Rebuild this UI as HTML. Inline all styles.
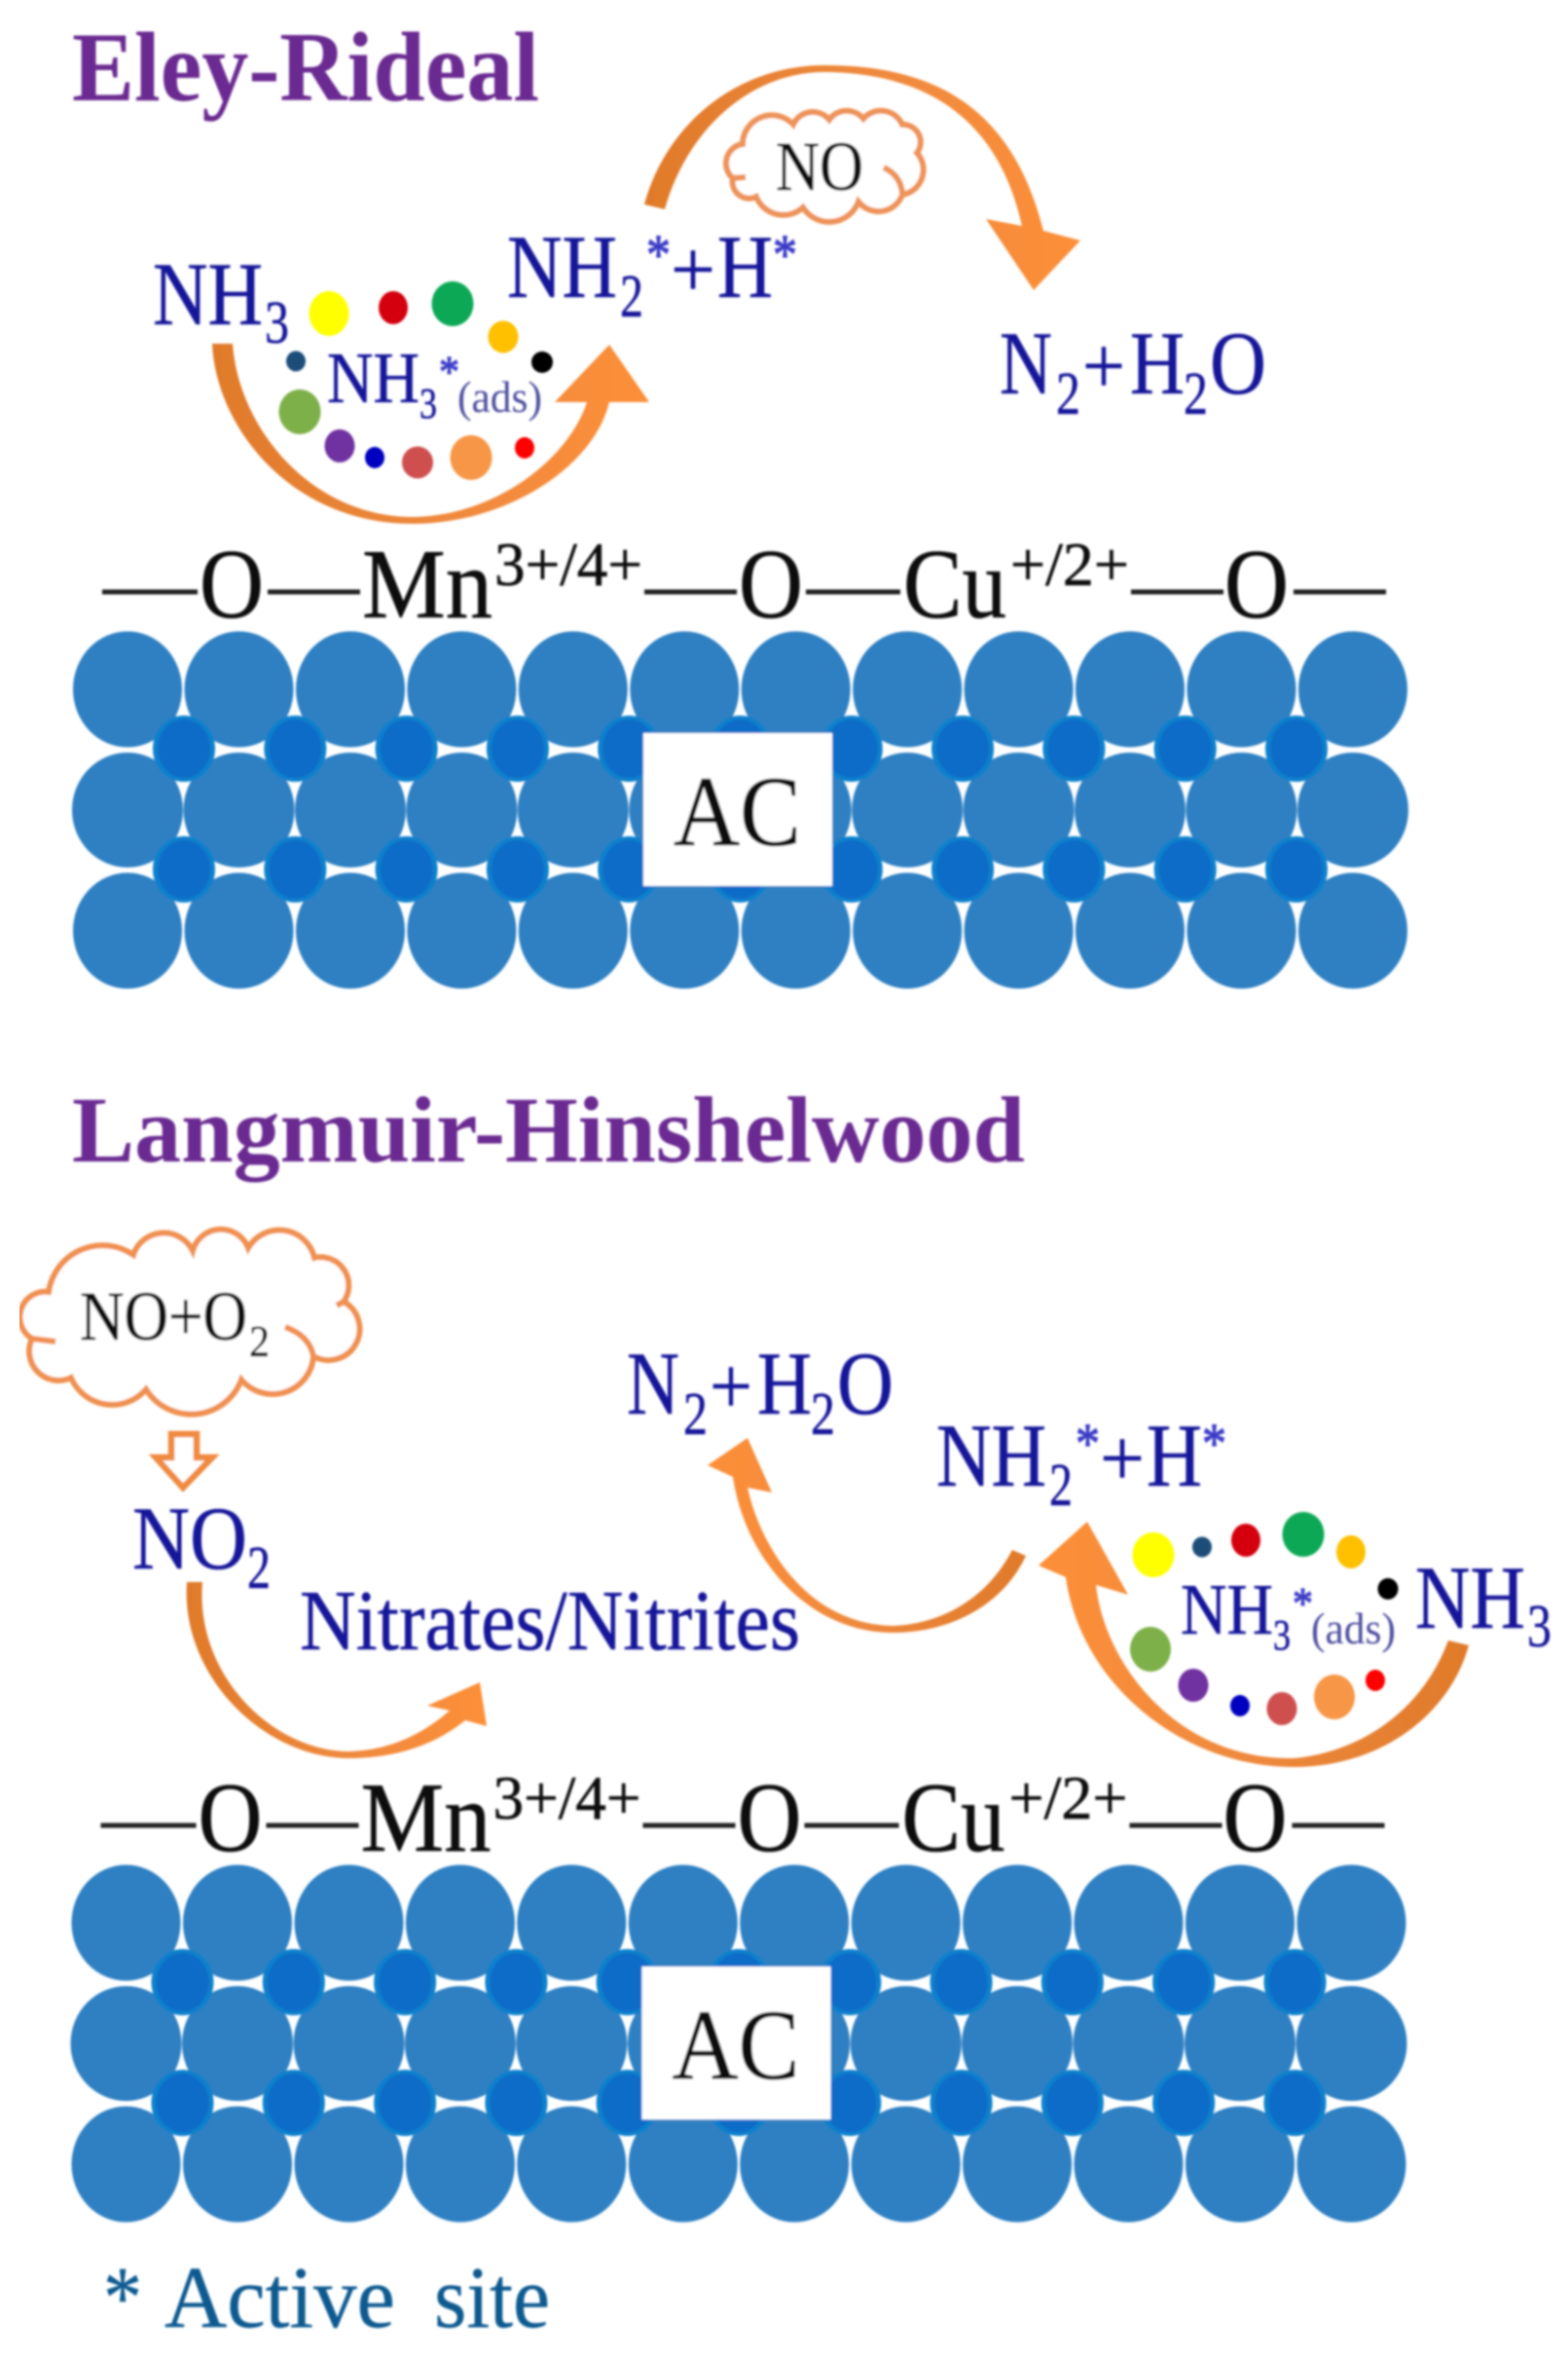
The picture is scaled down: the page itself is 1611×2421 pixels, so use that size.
<!DOCTYPE html>
<html lang="en">
<head>
<meta charset="utf-8">
<title>Eley-Rideal and Langmuir-Hinshelwood mechanisms</title>
<style>
html,body{margin:0;padding:0;background:#fff;width:1611px;height:2421px;overflow:hidden}
svg{display:block}
text{font-family:"Liberation Serif",serif;white-space:pre}
.b{fill:#16169a;stroke:#16169a;stroke-width:.5}
.s{fill:#3c3cc8;stroke:#3c3cc8;stroke-width:1.2}
.k{fill:#111;stroke:#111;stroke-width:.6}
.a{fill:#50509f}
.t{fill:#6a2c91;font-weight:bold}
.p{fill:#0a5a90;stroke:#0a5a90;stroke-width:.4}
</style>
</head>
<body>
<svg xmlns="http://www.w3.org/2000/svg" width="1611" height="2421" viewBox="0 0 1611 2421">
<defs>
<filter id="soft" x="0" y="0" width="100%" height="100%"><feGaussianBlur stdDeviation="1.1"/></filter>
<linearGradient id="gr" x1="0" y1="0" x2="1" y2="0"><stop offset="0" stop-color="#e07a2a"/><stop offset=".55" stop-color="#ef8a3e"/><stop offset="1" stop-color="#fd8f38"/></linearGradient>
<linearGradient id="gl" x1="1" y1="0" x2="0" y2="0"><stop offset="0" stop-color="#e07a2a"/><stop offset=".55" stop-color="#ef8a3e"/><stop offset="1" stop-color="#fd8f38"/></linearGradient>

<g id="col">
<ellipse cx="0" cy="708" rx="56" ry="59.5" fill="#2e80c2"/>
<ellipse cx="0" cy="832" rx="57" ry="59" fill="#2e80c2"/>
<ellipse cx="0" cy="956" rx="56" ry="59.5" fill="#2e80c2"/>
</g>
<g id="dot">
<ellipse cx="0" cy="769" rx="32" ry="34" fill="#0a80cc"/>
<ellipse cx="0" cy="769" rx="27" ry="30" fill="#0a6cc8"/>
<ellipse cx="0" cy="893" rx="32" ry="34" fill="#0a80cc"/>
<ellipse cx="0" cy="893" rx="27" ry="30" fill="#0a6cc8"/>
</g>
<g id="surface">
<use href="#col" x="131"/><use href="#col" x="245.5"/><use href="#col" x="360"/><use href="#col" x="474.4"/>
<use href="#col" x="588.8"/><use href="#col" x="703.3"/><use href="#col" x="817.7"/><use href="#col" x="932.2"/>
<use href="#col" x="1046.6"/><use href="#col" x="1161"/><use href="#col" x="1275.5"/><use href="#col" x="1390"/>
<use href="#dot" x="189"/><use href="#dot" x="303.3"/><use href="#dot" x="417.6"/><use href="#dot" x="531.9"/>
<use href="#dot" x="646.2"/><use href="#dot" x="760.5"/><use href="#dot" x="874.8"/><use href="#dot" x="989.1"/>
<use href="#dot" x="1103.4"/><use href="#dot" x="1217.7"/><use href="#dot" x="1332"/>
<rect x="661" y="753" width="194" height="157" fill="#fff"/>
<text class="k" x="692" y="868" font-size="103" textLength="131" lengthAdjust="spacingAndGlyphs">AC</text>
<g fill="#222">
<rect x="105" y="605.5" width="98" height="5"/>
<rect x="275" y="605.5" width="95" height="5"/>
<rect x="662" y="605.5" width="95" height="5"/>
<rect x="828" y="605.5" width="97" height="5"/>
<rect x="1162" y="605.5" width="95" height="5"/>
<rect x="1329" y="605.5" width="95" height="5"/>
</g>
<text class="k" x="205" y="634" font-size="102" textLength="66" lengthAdjust="spacingAndGlyphs">O</text>
<text class="k" x="372" y="634" font-size="102" textLength="134" lengthAdjust="spacingAndGlyphs">Mn</text>
<text class="k" x="508" y="601" font-size="64" textLength="152" lengthAdjust="spacingAndGlyphs">3+/4+</text>
<text class="k" x="759" y="634" font-size="102" textLength="66" lengthAdjust="spacingAndGlyphs">O</text>
<text class="k" x="928" y="634" font-size="102" textLength="106" lengthAdjust="spacingAndGlyphs">Cu</text>
<text class="k" x="1038" y="601" font-size="64" textLength="122" lengthAdjust="spacingAndGlyphs">+/2+</text>
<text class="k" x="1258" y="634" font-size="102" textLength="66" lengthAdjust="spacingAndGlyphs">O</text>
</g>

<g id="nh3">
<text class="b" x="157" y="333" font-size="92" textLength="113" lengthAdjust="spacingAndGlyphs">NH</text>
<text class="b" x="272" y="352" font-size="62" textLength="25" lengthAdjust="spacingAndGlyphs">3</text>
</g>
<g id="nh2h">
<text class="b" x="521" y="305" font-size="92" textLength="113" lengthAdjust="spacingAndGlyphs">NH</text>
<text class="b" x="637" y="325" font-size="62" textLength="24" lengthAdjust="spacingAndGlyphs">2</text>
<text class="s" x="664" y="281" font-size="58" textLength="25" lengthAdjust="spacingAndGlyphs">*</text>
<text class="b" x="689" y="305" font-size="84" textLength="46" lengthAdjust="spacingAndGlyphs">+</text>
<text class="b" x="737" y="305" font-size="92" textLength="57" lengthAdjust="spacingAndGlyphs">H</text>
<text class="s" x="794" y="281" font-size="58" textLength="25" lengthAdjust="spacingAndGlyphs">*</text>
</g>
<g id="nh3ads">
<text class="b" x="336" y="413" font-size="74" textLength="95" lengthAdjust="spacingAndGlyphs">NH</text>
<text class="b" x="431" y="429" font-size="44" textLength="18" lengthAdjust="spacingAndGlyphs">3</text>
<text class="s" x="451" y="397" font-size="46" textLength="21" lengthAdjust="spacingAndGlyphs">*</text>
<text class="a" x="470" y="423" font-size="46" textLength="87" lengthAdjust="spacingAndGlyphs">(ads)</text>
</g>
<g id="n2h2o">
<text class="b" x="1027" y="404" font-size="92" textLength="54" lengthAdjust="spacingAndGlyphs">N</text>
<text class="b" x="1085" y="425" font-size="62" textLength="25" lengthAdjust="spacingAndGlyphs">2</text>
<text class="b" x="1112" y="404" font-size="84" textLength="44" lengthAdjust="spacingAndGlyphs">+</text>
<text class="b" x="1161" y="404" font-size="92" textLength="56" lengthAdjust="spacingAndGlyphs">H</text>
<text class="b" x="1216" y="425" font-size="62" textLength="25" lengthAdjust="spacingAndGlyphs">2</text>
<text class="b" x="1243" y="404" font-size="92" textLength="58" lengthAdjust="spacingAndGlyphs">O</text>
</g>
</defs>

<rect width="1611" height="2421" fill="#fff"/>
<g filter="url(#soft)">

<!-- Eley-Rideal -->
<text class="t" x="74" y="103" font-size="102" textLength="480" lengthAdjust="spacingAndGlyphs">Eley-Rideal</text>

<path d="M662,210 C685,125 760,67 847,67 C960,67 1040,110 1072,237 L1110,247 L1062,298 L1013,225 L1050,232 C1025,120 950,75 847,74 C770,74 705,135 683,215 Z" fill="url(#gr)"/>

<path d="M753,183 A20,20 0 0 1 763,148 A30,30 0 0 1 815,128 A22,22 0 0 1 852,123 A22,22 0 0 1 887,122 A24,24 0 0 1 927,128 A18,18 0 0 1 942,157 A26,26 0 0 1 927,200 A26,26 0 0 1 882,207 A32,32 0 0 1 825,213 A30,30 0 0 1 777,202 A17,17 0 0 1 753,183 Z M908,172 Q925,180 927,198 M753,183 L766,182" fill="#fff" stroke="#ee9358" stroke-width="6"/>
<text class="k" x="797" y="195" font-size="72" textLength="90" lengthAdjust="spacingAndGlyphs">NO</text>

<use href="#nh3"/>
<use href="#nh2h"/>
<use href="#nh3ads"/>
<use href="#n2h2o"/>

<path d="M218,353 C222,440 300,538 424,538 C520,538 610,480 626,413 L667,413 L626,354 L570,413 L603,413 C585,470 510,530 424,531 C320,531 245,440 239,353 Z" fill="url(#gr)"/>

<ellipse cx="338" cy="322" rx="20.5" ry="23" fill="#ffff00"/>
<ellipse cx="404" cy="316" rx="15" ry="17" fill="#d40010"/>
<ellipse cx="465" cy="312" rx="21.5" ry="23" fill="#0aa855"/>
<ellipse cx="517" cy="346" rx="15.5" ry="16.5" fill="#ffc000"/>
<ellipse cx="304" cy="371" rx="10" ry="10.5" fill="#1f4e79"/>
<ellipse cx="557" cy="372" rx="11" ry="11" fill="#000"/>
<ellipse cx="308" cy="423" rx="21.5" ry="23" fill="#7eb04a"/>
<ellipse cx="349" cy="458" rx="15.5" ry="17" fill="#7030a0"/>
<ellipse cx="385" cy="470" rx="10" ry="11" fill="#0000c0"/>
<ellipse cx="429" cy="475" rx="16" ry="16.5" fill="#cf5050"/>
<ellipse cx="484" cy="470" rx="21.5" ry="23" fill="#f79646"/>
<ellipse cx="539" cy="460" rx="10" ry="11" fill="#ff0000"/>

<use href="#surface"/>

<!-- Langmuir-Hinshelwood -->
<text class="t" x="74" y="1193" font-size="96" textLength="979" lengthAdjust="spacingAndGlyphs">Langmuir-Hinshelwood</text>

<path d="M33,1375 A26,26 0 0 1 50,1327 A56,56 0 0 1 137,1289 A33,33 0 0 1 198,1285 A30,30 0 0 1 255,1282 A37,37 0 0 1 323,1292 A29,29 0 0 1 353,1337 A32,32 0 0 1 322,1393 A42,42 0 0 1 248,1417 A55,55 0 0 1 150,1427 A46,46 0 0 1 73,1415 A30,30 0 0 1 33,1375 Z M293,1363 Q318,1372 322,1393 M33,1375 L57,1378 M346,1341 L353,1337" fill="#fff" stroke="#f09050" stroke-width="6"/>
<text class="k" x="82" y="1376" font-size="72" textLength="172" lengthAdjust="spacingAndGlyphs">NO+O</text>
<text class="k" x="256" y="1393" font-size="46" textLength="21" lengthAdjust="spacingAndGlyphs">2</text>

<path d="M176,1473 H202 V1497 H218 L188,1528 L160,1497 H176 Z" fill="#fff" stroke="#f08a40" stroke-width="6.5"/>

<text class="b" x="136" y="1611" font-size="92" textLength="118" lengthAdjust="spacingAndGlyphs">NO</text>
<text class="b" x="254" y="1631" font-size="62" textLength="24" lengthAdjust="spacingAndGlyphs">2</text>

<path d="M192,1625 C185,1720 270,1806 359,1806 C410,1806 450,1790 478,1767 L500,1773 L493,1728 L439,1752 L462,1757 C430,1785 395,1798 359,1799 C280,1799 200,1720 208,1625 Z" fill="url(#gr)"/>

<text class="b" x="308" y="1694" font-size="88" textLength="514" lengthAdjust="spacingAndGlyphs">Nitrates/Nitrites</text>

<use href="#n2h2o" transform="translate(-383,1048)"/>
<use href="#nh2h" transform="translate(441,1221)"/>
<use href="#nh3ads" transform="translate(877,1265)"/>
<use href="#nh3" transform="translate(1297,1339)"/>

<path d="M1054,1598 C1030,1650 975,1677 917,1677 C830,1677 765,1600 753,1517 L727,1505 L768,1477 L793,1533 L768,1528 C782,1590 830,1668 917,1670 C970,1668 1015,1640 1040,1592 Z" fill="url(#gl)"/>

<path d="M1509,1690 C1490,1760 1420,1815 1329,1815 C1215,1815 1110,1730 1095,1620 L1067,1608 L1117,1563 L1159,1638 L1126,1628 C1135,1710 1210,1808 1329,1806 C1395,1800 1460,1760 1488,1685 Z" fill="url(#gl)"/>

<ellipse cx="1185" cy="1597" rx="21.5" ry="23" fill="#ffff00"/>
<ellipse cx="1235" cy="1589" rx="10" ry="10.5" fill="#1f4e79"/>
<ellipse cx="1280" cy="1582" rx="15" ry="17" fill="#d40010"/>
<ellipse cx="1339" cy="1576" rx="21.5" ry="23" fill="#0aa855"/>
<ellipse cx="1388" cy="1594" rx="15" ry="17" fill="#ffc000"/>
<ellipse cx="1426" cy="1632" rx="10.5" ry="11" fill="#000"/>
<ellipse cx="1182" cy="1694" rx="21" ry="23" fill="#7eb04a"/>
<ellipse cx="1226" cy="1731" rx="15.5" ry="17" fill="#7030a0"/>
<ellipse cx="1274" cy="1752" rx="10" ry="11" fill="#0000c0"/>
<ellipse cx="1317" cy="1755" rx="15.5" ry="17" fill="#cf5050"/>
<ellipse cx="1371" cy="1743" rx="21" ry="23" fill="#f79646"/>
<ellipse cx="1413" cy="1726" rx="10" ry="11" fill="#ff0000"/>

<use href="#surface" transform="translate(-1.5,1267)"/>

<text class="p" x="106" y="2390" font-size="90" textLength="40" lengthAdjust="spacingAndGlyphs">*</text>
<text class="p" x="169" y="2390" font-size="90" textLength="237" lengthAdjust="spacingAndGlyphs">Active</text>
<text class="p" x="446" y="2390" font-size="90" textLength="119" lengthAdjust="spacingAndGlyphs">site</text>
</g>
</svg>
</body>
</html>
